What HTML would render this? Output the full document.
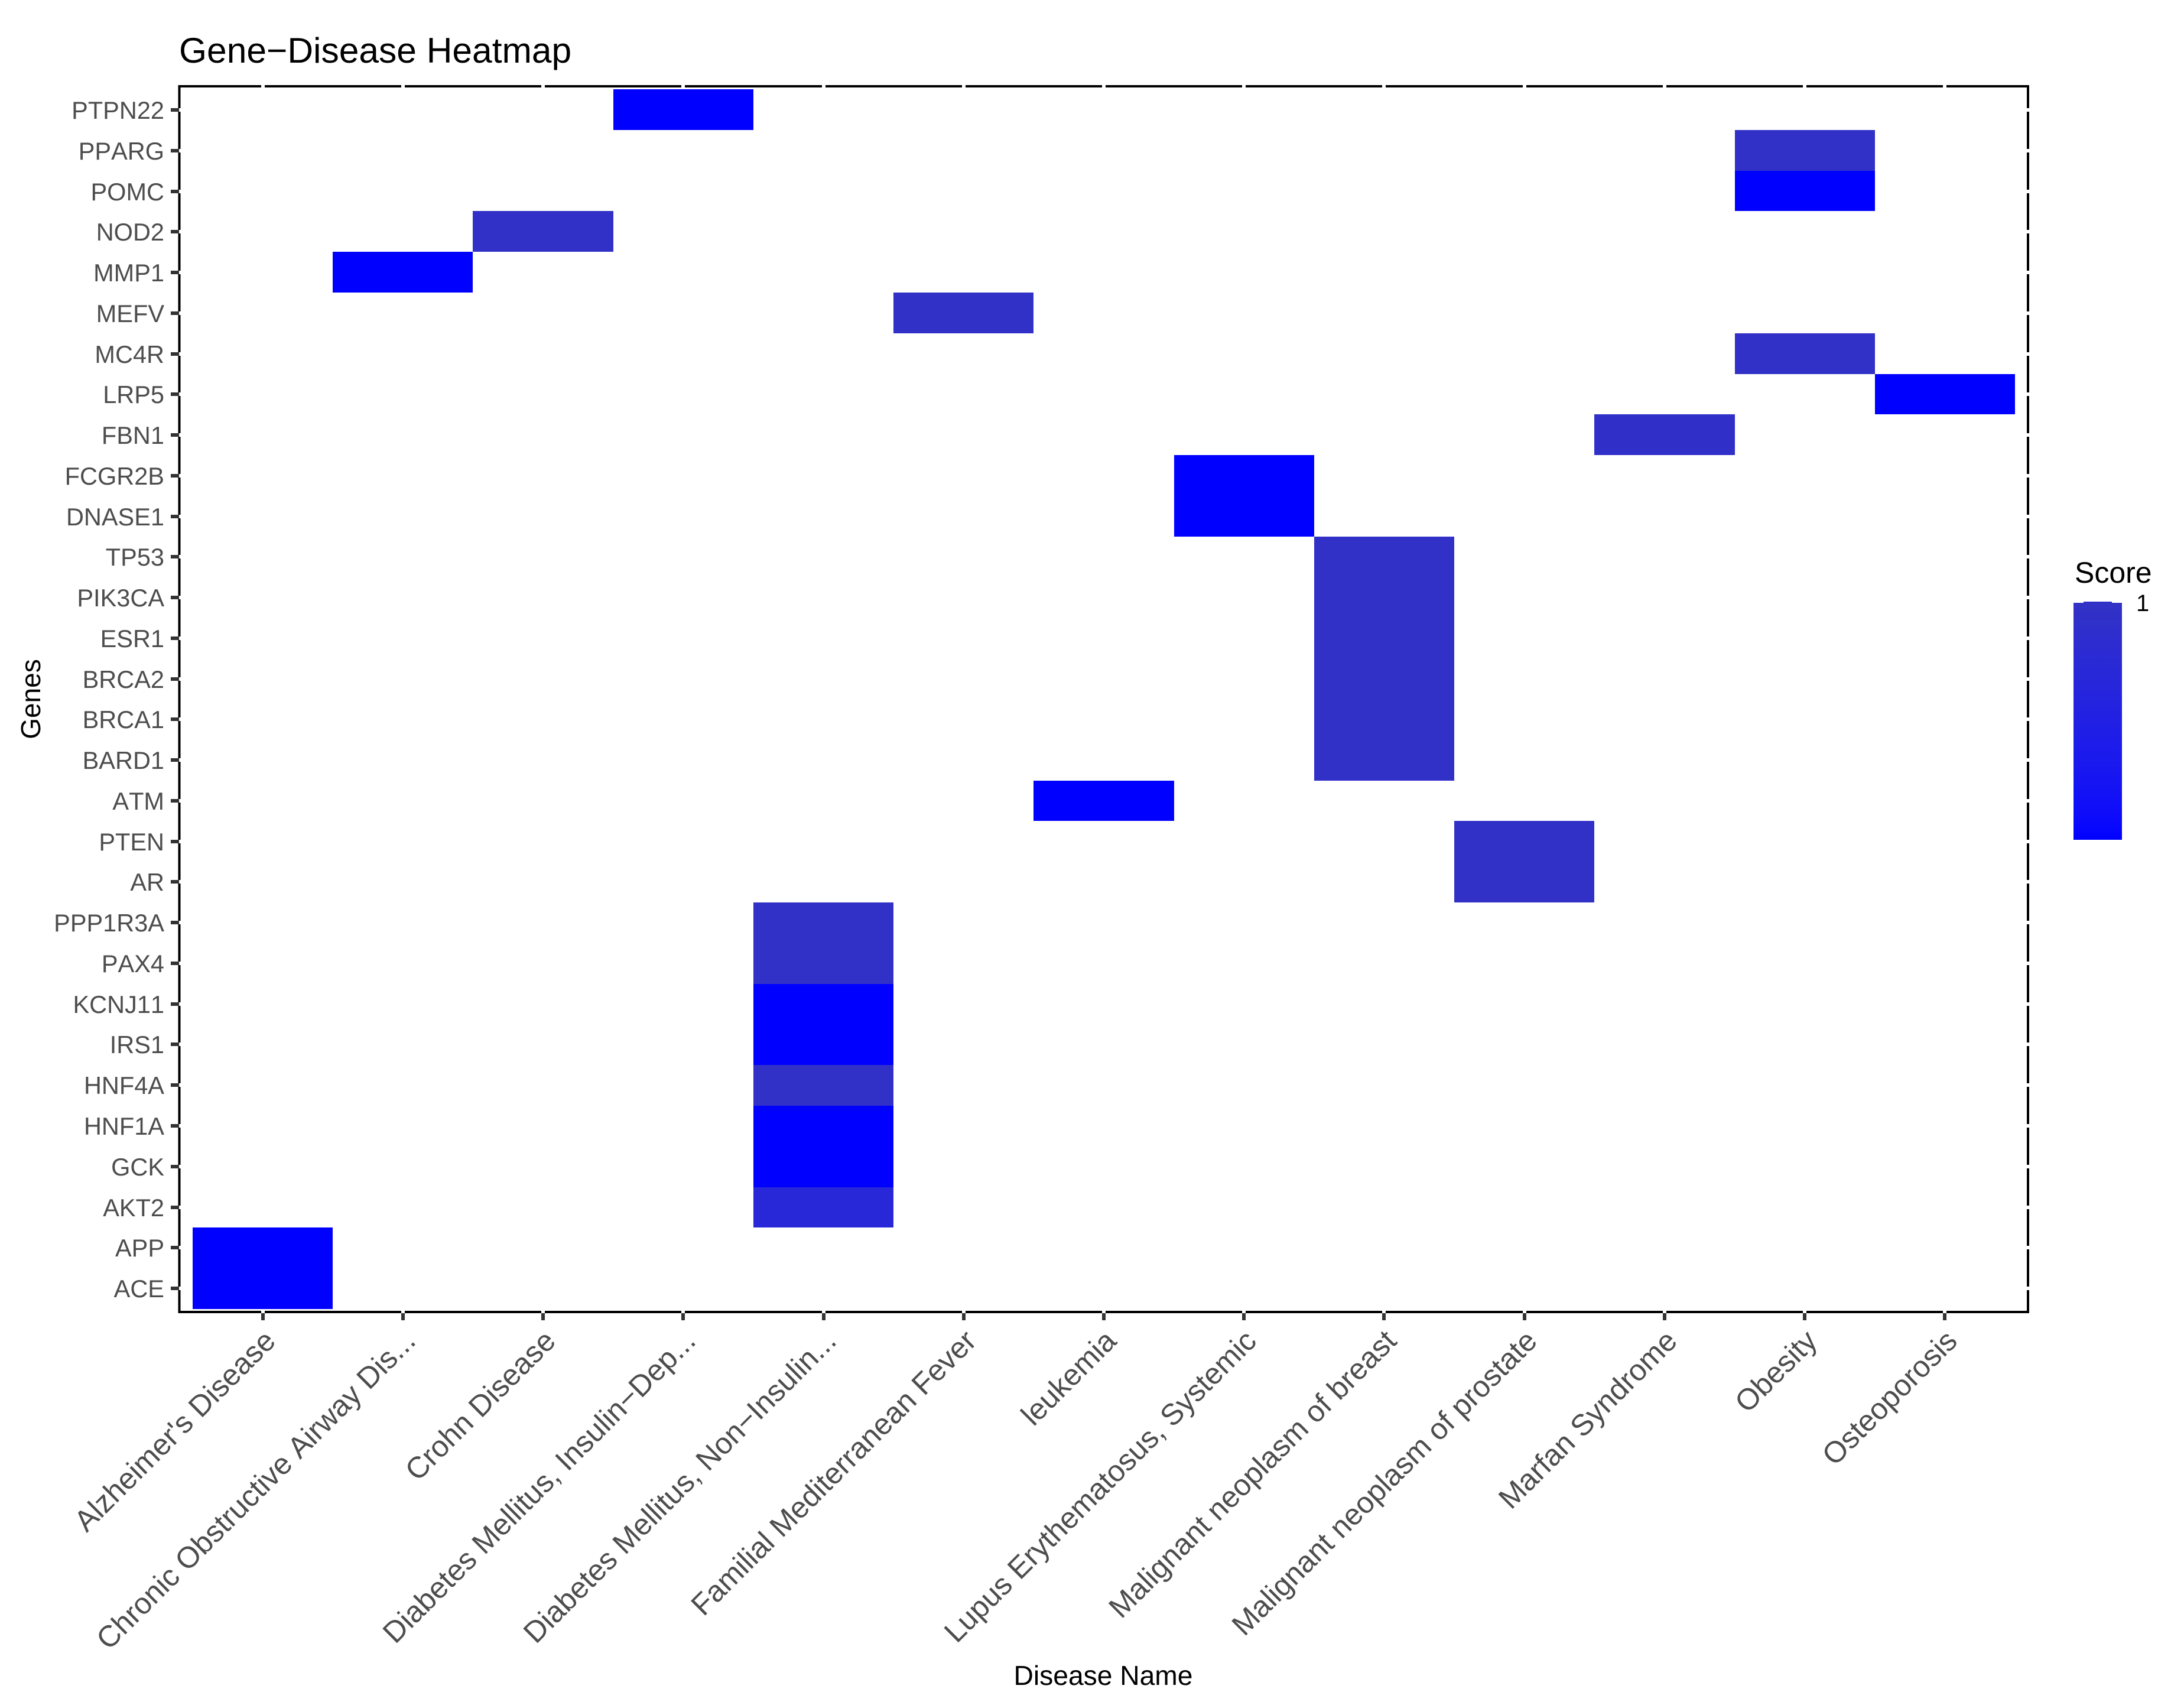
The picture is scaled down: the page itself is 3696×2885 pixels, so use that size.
<!DOCTYPE html>
<html lang="en">
<head>
<meta charset="utf-8">
<title>Gene-Disease Heatmap</title>
<style>
html,body{margin:0;padding:0;background:#fff;width:3696px;height:2885px;overflow:hidden}
svg{display:block;font-family:"Liberation Sans",Arial,sans-serif;font-kerning:none}
</style>
</head>
<body>
<svg id="chart" xmlns="http://www.w3.org/2000/svg" width="3696" height="2885" viewBox="0 0 3696 2885">
  <rect x="0" y="0" width="3696" height="2885" fill="#ffffff"/>
  <text x="303" y="106" font-size="60.5" fill="#000">Gene−Disease Heatmap</text>
  <text x="1867" y="2851" font-size="46.2" fill="#000" text-anchor="middle">Disease Name</text>
  <text transform="translate(68,1183) rotate(-90)" font-size="46" fill="#000" text-anchor="middle">Genes</text>
  <g id="tiles"></g>
  <g id="frame"></g>
  <g id="xticks"></g>
  <g id="yticks"></g>
  <g id="legend">
    <text x="3511" y="986" font-size="50" fill="#000">Score</text>
    <defs><linearGradient id="legendGradient" x1="0" y1="1" x2="0" y2="0"></linearGradient></defs>
    <rect id="legendBar" x="3509" y="1020" width="82" height="401" fill="url(#legendGradient)"/>
    <rect x="3526" y="1018" width="48" height="2" fill="#2e2ecb"/>
  </g>
</svg>
<script>
const diseases = ["Alzheimer's Disease","Chronic Obstructive Airway Dis...","Crohn Disease","Diabetes Mellitus, Insulin−Dep...","Diabetes Mellitus, Non−Insulin...","Familial Mediterranean Fever","leukemia","Lupus Erythematosus, Systemic","Malignant neoplasm of breast","Malignant neoplasm of prostate","Marfan Syndrome","Obesity","Osteoporosis"];
const genes = ["ACE","APP","AKT2","GCK","HNF1A","HNF4A","IRS1","KCNJ11","PAX4","PPP1R3A","AR","PTEN","ATM","BARD1","BRCA1","BRCA2","ESR1","PIK3CA","TP53","DNASE1","FCGR2B","FBN1","LRP5","MC4R","MEFV","MMP1","NOD2","POMC","PPARG","PTPN22"];
const cellGenes = ["ACE","APP","AKT2","GCK","HNF1A","HNF4A","IRS1","KCNJ11","PAX4","PPP1R3A","AR","PTEN","ATM","BARD1","BRCA1","BRCA2","ESR1","PIK3CA","TP53","DNASE1","FCGR2B","FBN1","LRP5","MC4R","MEFV","MMP1","NOD2","POMC","PPARG","PTPN22"];
const cellDiseases = [0,0,4,4,4,4,4,4,4,4,9,9,6,8,8,8,8,8,8,7,7,10,12,11,5,1,2,11,11,3];
const cellScores = [0.7,0.7,0.91,0.7,0.7,0.99,0.7,0.7,0.99,0.99,0.99,0.99,0.7,0.99,0.99,0.99,0.99,0.99,0.99,0.7,0.7,0.98,0.7,0.99,0.99,0.7,0.99,0.7,0.99,0.7];
const legendBreaks = ["1"];

const SVG_NS = "http://www.w3.org/2000/svg";
const panel = {left:303.5, right:3432, top:146, bottom:2220};
const band = {x0:326, x1:3410, y0:151, y1:2215};
const tickBand = {y0:151.6, y1:2214.4};
const scoreMin = 0.7, scoreMax = 1;

function xBand(){ return (band.x1-band.x0)/diseases.length; }
function yBand(){ return (band.y1-band.y0)/genes.length; }
function xLeft(i){ return band.x0 + i*xBand(); }
function xCenter(i){ return xLeft(i) + xBand()/2; }
function yTop(i){ return band.y1 - (i+1)*yBand(); }
function yTickCenter(i){ const u=(tickBand.y1-tickBand.y0)/genes.length; return tickBand.y1 - (i+0.5)*u; }
function scoreColor(s){
  const t = Math.max(0,Math.min(1,(s-scoreMin)/(scoreMax-scoreMin)));
  const r = 50*Math.pow(t,0.6), g = 50*Math.pow(t,0.65), b = 255-58*Math.pow(t,1.1);
  return "rgb("+Math.round(r)+","+Math.round(g)+","+Math.round(b)+")";
}
function make(tag, attrs, parent){
  const el = document.createElementNS(SVG_NS, tag);
  for(const k in attrs) el.setAttribute(k, attrs[k]);
  parent.appendChild(el);
  return el;
}

const tilesG = document.getElementById("tiles");
cellScores.forEach((score,i)=>{
  const row = genes.indexOf(cellGenes[i]);
  const col = cellDiseases[i];
  const x0 = Math.round(xLeft(col)), x1 = Math.round(xLeft(col+1));
  const y0 = Math.round(yTop(row)), y1 = Math.round(yTop(row)+yBand());
  const r = make("rect",{x:x0,y:y0,width:x1-x0,height:y1-y0,fill:scoreColor(score),"shape-rendering":"crispEdges"},tilesG);
  
  
});

const frameG = document.getElementById("frame");
const frameRect = make("rect",{x:panel.left,y:panel.top,width:panel.right-panel.left,height:panel.bottom-panel.top,fill:"none",stroke:"#000","stroke-width":4,"shape-rendering":"crispEdges"},frameG);



const xG = document.getElementById("xticks");
diseases.forEach((name,i)=>{
  const cx = Math.round(xCenter(i));
  [panel.top-2, panel.bottom-2].forEach(py=>{
    const gap = make("rect",{x:cx-3,y:py-1,width:6,height:6,fill:"#fff","shape-rendering":"crispEdges"},xG);
    
    
  });
  const tick = make("rect",{x:cx-3,y:2222,width:6,height:12,fill:"#333333","shape-rendering":"crispEdges"},xG);
  
  
  const label = make("text",{transform:"translate("+(cx+24)+",2272) rotate(-45)","text-anchor":"end","font-size":50.5,fill:"#4d4d4d"},xG);
  
  
  label.textContent = name;
});

const yG = document.getElementById("yticks");
genes.forEach((name,i)=>{
  const cy = Math.round(yTickCenter(i));
  const gapL = make("rect",{x:302,y:cy-3,width:4,height:6,fill:"#fff","shape-rendering":"crispEdges"},yG);
  
  
  const gapR = make("rect",{x:3429,y:cy-3,width:6,height:6,fill:"#fff","shape-rendering":"crispEdges"},yG);
  
  
  const tick = make("rect",{x:289,y:cy-3,width:14,height:6,fill:"#333333","shape-rendering":"crispEdges"},yG);
  
  
  const label = make("text",{x:278,y:cy+15,"text-anchor":"end","font-size":41.5,fill:"#4d4d4d"},yG);
  
  
  label.textContent = name;
});

const grad = document.getElementById("legendGradient");
[0,0.05,0.1,0.2,0.3,0.4,0.5,0.6,0.7,0.8,0.9,1].forEach(f=>{
  make("stop",{offset:f,"stop-color":scoreColor(scoreMin+f*(scoreMax-scoreMin))},grad);
});
const legendG = document.getElementById("legend");
legendBreaks.forEach(b=>{
  const t = make("text",{x:3615,y:1034,"font-size":40,fill:"#000"},legendG);
  
  
  t.textContent = b;
});
</script>
</body>
</html>
